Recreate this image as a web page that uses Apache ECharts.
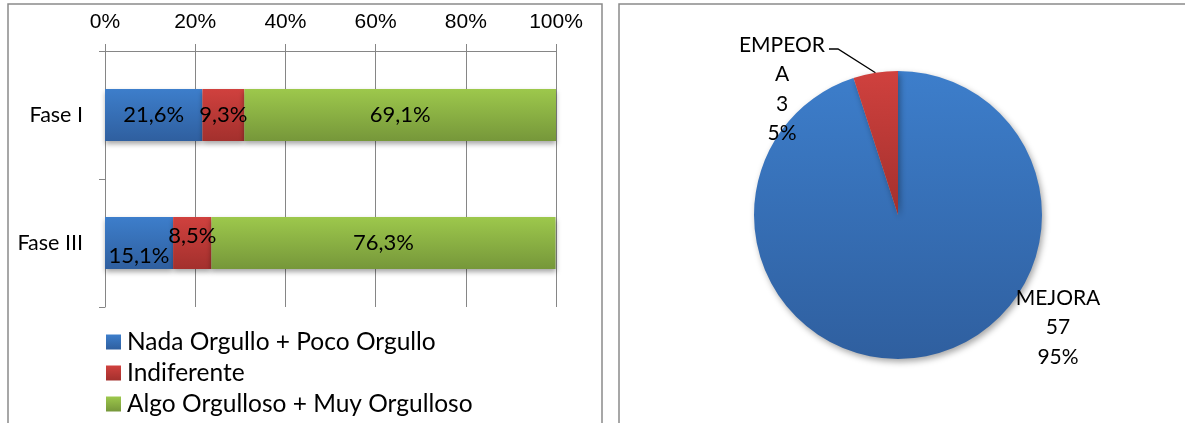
<!DOCTYPE html>
<html>
<head>
<meta charset="utf-8">
<script src="https://cdn.jsdelivr.net/npm/echarts@6/dist/echarts.min.js"></script>
<style>
  html, body { margin: 0; padding: 0; background: #fff; }
  #chart { width: 1185px; height: 423px; }
</style>
</head>
<body>
<div id="chart"></div>
<script>
// Survey categories (bar chart) and answer groups
const categories = ['Fase I', 'Fase III'];
const seriesNames = ['Nada Orgullo + Poco Orgullo', 'Indiferente', 'Algo Orgulloso + Muy Orgulloso'];
const nadaPoco = [21.6, 15.1];
const indiferente = [9.3, 8.5];
const algoMuy = [69.1, 76.3];
const xTickValues = [0, 20, 40, 60, 80, 100];

// Pie: change in situation
const pieNames = ['MEJORA', 'EMPEORA'];
const pieCounts = [57, 3];

const chart = echarts.init(document.getElementById('chart'), null, { renderer: 'canvas' });

const FONT = 'Lato, "Open Sans", sans-serif';

function grad(top, bottom) {
  return new echarts.graphic.LinearGradient(0, 0, 0, 1, [
    { offset: 0, color: top },
    { offset: 1, color: bottom }
  ]);
}
const fills = [
  grad('#3d7ecb', '#2f5f9f'),
  grad('#d0413e', '#a3302d'),
  grad('#9dc84c', '#76973a')
];

// per-point label nudges (pixels) so neighbouring labels don't collide
const labelNudge = [
  [[0, 0], [0, 13]],
  [[0, 0], [0, -7]],
  [[0, 0], [0, 0]]
];

function fmtPct(v) { return v.toFixed(1).replace('.', ',') + '%'; }

function barSeries(name, values, idx) {
  return {
    name: name,
    type: 'bar',
    stack: 'total',
    barWidth: 52,
    itemStyle: {
      color: fills[idx],
      shadowColor: 'rgba(0,0,0,0.35)',
      shadowBlur: 5,
      shadowOffsetY: 3
    },
    label: {
      show: true,
      position: 'inside',
      color: '#000',
      fontFamily: FONT,
      fontSize: 22,
      formatter: p => fmtPct(p.value)
    },
    data: values.map((v, i) => ({ value: v, label: { offset: labelNudge[idx][i] } }))
  };
}

const option = {
  animation: false,
  textStyle: { fontFamily: FONT },
  graphic: [
    { type: 'rect', shape: { x: 8, y: 4, width: 594, height: 430 }, style: { fill: 'none', stroke: '#8a8a8a', lineWidth: 1.5 }, silent: true },
    { type: 'rect', shape: { x: 619, y: 4, width: 600, height: 430 }, style: { fill: 'none', stroke: '#8a8a8a', lineWidth: 1.5 }, silent: true }
  ],
  grid: { left: 105, right: 629, top: 51, bottom: 116, containLabel: false },
  xAxis: {
    type: 'value',
    position: 'top',
    min: 0,
    max: 100,
    interval: 20,
    axisLine: { show: true, lineStyle: { color: '#868686', width: 1 } },
    axisTick: { show: true, length: 7, lineStyle: { color: '#868686' } },
    splitLine: { show: true, lineStyle: { color: '#868686', width: 1 } },
    axisLabel: {
      color: '#000',
      fontFamily: '"Liberation Sans", Arial, sans-serif',
      fontSize: 21,
      margin: 18,
      formatter: v => xTickValues.includes(v) ? v + '%' : ''
    }
  },
  yAxis: {
    type: 'category',
    inverse: true,
    data: categories,
    axisLine: { show: true, lineStyle: { color: '#868686', width: 1 } },
    axisTick: { show: true, length: 6, lineStyle: { color: '#868686' } },
    axisLabel: { color: '#000', fontFamily: FONT, fontSize: 21.5, margin: 22 }
  },
  legend: {
    data: seriesNames,
    orient: 'vertical',
    left: 101,
    top: 324,
    height: 120,
    itemWidth: 15,
    itemHeight: 15,
    itemGap: 5,
    icon: 'rect',
    textStyle: { color: '#000', fontFamily: FONT, fontSize: 24.5, lineHeight: 26, padding: [0, 0, 0, 1] }
  },
  series: [
    barSeries(seriesNames[0], nadaPoco, 0),
    barSeries(seriesNames[1], indiferente, 1),
    barSeries(seriesNames[2], algoMuy, 2),
    {
      name: 'Situación',
      type: 'pie',
      center: [898, 215],
      radius: 144,
      startAngle: 90,
      clockwise: true,
      itemStyle: {
        shadowColor: 'rgba(0,0,0,0.35)',
        shadowBlur: 6,
        shadowOffsetX: 2,
        shadowOffsetY: 3
      },
      label: {
        show: true,
        position: 'outside',
        color: '#000',
        fontFamily: FONT,
        fontSize: 21,
        lineHeight: 29.5,
        align: 'center',
        formatter: p => p.name + '\n' + p.value + '\n' + Math.round(p.percent) + '%'
      },
      labelLine: { show: true, length: 8, length2: 8, lineStyle: { color: '#000', width: 1.3 } },
      labelLayout: function (p) {
        if (p.dataIndex === 0) {
          return { x: 1058, y: 283, align: 'center', verticalAlign: 'top' };
        }
        const anchor = p.labelLinePoints ? p.labelLinePoints[0] : [876, 74];
        return {
          x: 782, y: 30, align: 'center', verticalAlign: 'top',
          labelLinePoints: [anchor, [838, 49], [829, 49]]
        };
      },
      data: pieNames.map((n, i) => ({
        name: n,
        value: pieCounts[i],
        itemStyle: { color: i === 0 ? grad('#3d7ecb', '#2f5f9f') : grad('#d0413e', '#a3302d') },
        labelLine: { show: i === 1 },
        label: i === 1 ? { width: 92, overflow: 'breakAll' } : {}
      }))
    }
  ]
};

chart.setOption(option);
</script>
</body>
</html>
